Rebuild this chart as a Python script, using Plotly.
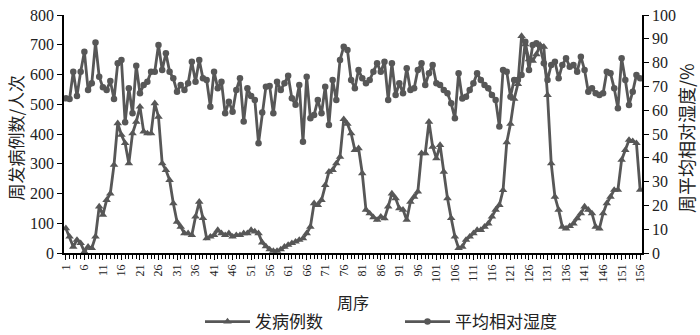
import plotly.graph_objects as go

weeks = list(range(1, 157))

cases = [
    83, 55, 21, 44, 33, 4, 21, 16, 55, 156,
    128, 178, 200, 296, 436, 397, 369, 301, 402, 441,
    492, 408, 402, 402, 503, 458, 301, 279, 245, 167,
    105, 88, 66, 66, 60, 122, 172, 117, 49, 55,
    60, 77, 66, 60, 66, 55, 60, 60, 66, 66,
    77, 72, 66, 35, 22, 12, 7, 7, 12, 21,
    27, 33, 38, 44, 49, 66, 88, 167, 161, 178,
    228, 273, 279, 301, 323, 450, 434, 402, 346, 352,
    268, 145, 133, 120, 111, 122, 116, 156, 200, 184,
    150, 145, 111, 172, 189, 206, 335, 335, 441, 357,
    318, 363, 273, 184, 117, 55, 16, 21, 44, 55,
    66, 77, 77, 88, 99, 122, 145, 161, 211, 372,
    434, 518, 568, 729, 701, 651, 646, 668, 699, 693,
    531, 301, 189, 145, 88, 82, 90, 99, 116, 133,
    156, 145, 133, 88, 82, 133, 167, 189, 212, 212,
    313, 346, 380, 376, 369, 212,
]

humidity = [
    65.0, 64.7, 76.2, 66.0, 76.2, 84.6, 68.5, 71.3, 88.4, 74.1,
    69.6, 68.5, 72.3, 64.7, 79.7, 81.1, 54.9, 69.2, 58.7, 78.7,
    67.1, 70.6, 72.0, 76.2, 76.2, 87.4, 76.9, 83.9, 76.2, 73.4,
    67.8, 70.6, 68.5, 71.3, 80.4, 72.0, 81.1, 73.4, 72.7, 61.5,
    76.2, 69.2, 72.0, 58.7, 63.6, 59.4, 68.5, 73.4, 55.2, 69.2,
    66.0, 64.3, 46.1, 59.0, 69.9, 70.2, 58.7, 72.0, 68.5, 71.3,
    74.5, 65.0, 62.3, 70.6, 46.7, 74.1, 56.6, 58.0, 64.3, 58.7,
    69.9, 53.8, 72.7, 64.3, 81.1, 86.7, 85.3, 72.7, 69.2, 76.9,
    73.4, 71.3, 72.7, 76.2, 79.7, 76.2, 80.4, 64.3, 79.7, 66.4,
    71.3, 67.1, 77.6, 68.5, 69.2, 76.9, 79.7, 70.6, 75.5, 79.0,
    71.3, 70.6, 68.5, 67.1, 62.9, 56.6, 75.5, 64.9, 65.7, 68.5,
    71.3, 75.5, 72.7, 70.6, 69.2, 66.4, 64.3, 53.1, 76.9, 76.2,
    65.7, 72.7, 72.7, 74.8, 88.8, 76.9, 87.4, 88.1, 86.7, 79.7,
    72.7, 79.0, 80.4, 73.4, 79.0, 81.8, 78.3, 79.0, 76.2, 82.5,
    76.9, 67.8, 69.2, 67.1, 66.4, 67.1, 76.2, 75.5, 69.2, 60.8,
    81.8, 72.7, 62.2, 67.8, 74.8, 73.4,
]

x_tick_vals = list(range(1, 157, 5))
x_tick_text = [str(v) for v in x_tick_vals]
y_left_ticks = list(range(0, 801, 100))
y_right_ticks = list(range(0, 101, 10))

name_cases = "发病例数"
name_hum = "平均相对湿度"
title_x = "周序"
title_left = "周发病例数/人次"
title_right = "周平均相对湿度/%"

line_color = "#575757"
serif = "Liberation Serif, Times New Roman, serif"
cjk = "Noto Sans CJK SC, sans-serif"

L, R, T, B = 64, 58, 15, 82
plot_w = 700 - L - R
plot_h = 335 - T - B

fig = go.Figure()
fig.add_trace(go.Scatter(
    x=weeks, y=cases, name=name_cases, mode="lines+markers",
    line=dict(color=line_color, width=2.8),
    marker=dict(symbol="triangle-up", size=7.5, color=line_color),
    yaxis="y",
))
fig.add_trace(go.Scatter(
    x=weeks, y=humidity, name=name_hum, mode="lines+markers",
    line=dict(color=line_color, width=2.8),
    marker=dict(symbol="circle", size=6.5, color=line_color),
    yaxis="y2",
))

fig.update_layout(
    width=700, height=335,
    margin=dict(l=L, r=R, t=T, b=B, autoexpand=False),
    paper_bgcolor="white", plot_bgcolor="white",
    showlegend=True,
    legend=dict(
        orientation="h", x=(200 - L) / plot_w, xanchor="left",
        y=-(322 - 253) / plot_h, yanchor="middle",
        font=dict(family=cjk, size=17, color="#222"),
        entrywidth=140, itemwidth=45,
        bgcolor="rgba(0,0,0,0)",
    ),
    xaxis=dict(
        range=[0.5, 156.5], automargin=False,
        tickmode="array", tickvals=x_tick_vals, ticktext=x_tick_text,
        tickangle=-90, ticks="outside", ticklen=5, tickcolor="black",
        tickfont=dict(family=serif, size=12, color="#222"),
        showline=True, linecolor="black", linewidth=1.5,
        showgrid=False, zeroline=False,
        minor=dict(tick0=1, dtick=1, ticks="outside", ticklen=4, tickcolor="black", showgrid=False),
    ),
    yaxis=dict(
        range=[0, 800], tickmode="array", tickvals=y_left_ticks, automargin=False,
        ticks="outside", ticklen=5, tickcolor="black",
        tickfont=dict(family=serif, size=16, color="#222"),
        showline=True, linecolor="black", linewidth=1.5,
        showgrid=False, zeroline=False,
    ),
    yaxis2=dict(
        range=[0, 100], tickmode="array", tickvals=y_right_ticks, automargin=False,
        overlaying="y", side="right",
        ticks="outside", ticklen=5, tickcolor="black",
        tickfont=dict(family=serif, size=16, color="#222"),
        showline=True, linecolor="black", linewidth=1.5,
        showgrid=False, zeroline=False,
    ),
    annotations=[
        dict(text=title_x, x=0.5, xref="paper", y=-(302 - 253) / plot_h, yref="paper",
             showarrow=False, font=dict(family=cjk, size=16, color="#222"),
             xanchor="center", yanchor="middle"),
        dict(text=title_left, x=(16 - L) / plot_w, xref="paper", y=0.485, yref="paper",
             showarrow=False, textangle=-90, font=dict(family=cjk, size=17, color="#222"),
             xanchor="center", yanchor="middle"),
        dict(text=title_right, x=(686 - L) / plot_w, xref="paper", y=0.483, yref="paper",
             showarrow=False, textangle=-90, font=dict(family=cjk, size=18, color="#222"),
             xanchor="center", yanchor="middle"),
    ],
)

fig.write_html(
    "out.html",
    config={"displayModeBar": False},
    post_script="document.body.style.margin='0px';document.body.style.overflow='hidden';",
)
